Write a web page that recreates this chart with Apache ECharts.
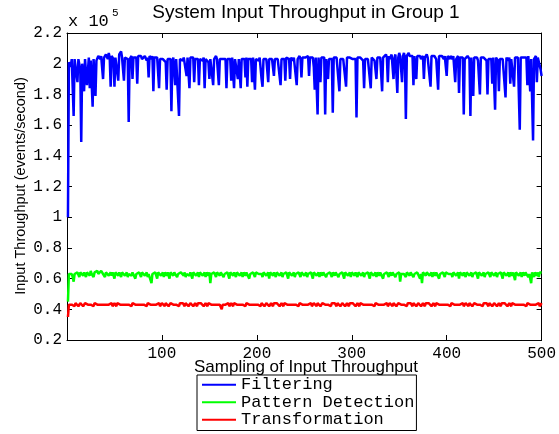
<!DOCTYPE html>
<html><head><meta charset="utf-8">
<script src="https://cdn.jsdelivr.net/npm/echarts@6/dist/echarts.min.js"></script>
<style>html,body{margin:0;padding:0;background:#fff}#c{width:559px;height:434px}</style>
</head><body><div id="c"></div>
<script>
// values in thousands of events/second (plotted in units of 10^5)
const seriesNames = ['Filtering', 'Pattern Detection', 'Transformation'];
const seriesColors = ['#0000ff', '#00ff00', '#ff0000'];
const xTicks = [100, 200, 300, 400, 500];
const yTicks = [0.2, 0.4, 0.6, 0.8, 1, 1.2, 1.4, 1.6, 1.8, 2, 2.2];

const filtering = [
100,201,200,198,203,202,166,203,204,203,188,203,202,196,149,200,201,182,203,202,
186,185,204,184,202,203,172,203,204,179,202,203,205,204,203,205,206,190,204,205,
206,205,203,207,204,185,205,204,203,185,204,205,203,189,206,205,208,204,203,189,
204,203,205,203,162,203,204,205,190,204,205,203,204,187,205,204,206,205,203,204,
203,205,204,202,204,191,205,204,203,205,182,204,203,205,204,203,184,203,204,202,
203,204,202,201,183,203,204,202,203,169,202,204,203,186,203,204,202,166,203,204,
203,202,204,205,203,192,204,203,184,204,205,203,204,188,203,204,202,203,186,203,
204,203,202,204,184,203,204,202,201,190,203,204,202,186,203,204,205,203,202,186,
203,204,202,203,204,202,203,184,203,204,202,203,189,204,203,184,203,204,202,190,
203,204,184,203,202,204,203,191,204,185,203,202,204,203,188,204,203,183,203,204,
203,202,204,203,190,185,203,204,202,203,204,188,203,204,202,203,204,192,203,202,
204,203,202,204,186,203,204,202,203,189,204,203,205,203,190,204,203,202,204,203,
204,186,203,204,205,203,191,204,203,205,204,203,204,205,192,204,205,203,204,198,
183,204,203,167,204,203,188,204,203,205,204,167,203,204,190,203,204,202,203,168,
204,203,205,204,203,204,182,203,204,202,203,204,202,185,204,203,205,204,203,204,
203,204,202,203,165,204,203,205,204,203,204,202,184,203,204,202,203,204,203,184,
204,203,204,202,203,190,204,203,205,204,203,182,204,205,203,206,204,188,205,203,
204,206,205,190,204,206,205,181,204,207,205,206,188,205,207,204,164,205,206,207,
205,206,204,205,186,205,204,190,205,206,204,205,203,204,205,190,204,205,206,204,
205,204,185,205,204,206,205,204,203,204,183,205,204,206,205,204,203,205,204,192,
205,204,203,205,204,203,205,204,188,203,204,205,181,204,203,205,204,167,203,204,
203,205,204,203,166,204,203,179,204,205,203,204,202,203,180,204,203,205,204,203,
204,202,180,203,204,202,203,187,204,203,170,204,203,202,182,203,204,202,203,204,
203,178,204,203,202,204,187,203,204,202,185,204,203,205,204,203,157,204,205,203,
204,205,203,204,186,205,204,182,203,204,150,203,204,205,188,204,203,205,196,192
];

const patternDetection = [
45,63,64,62,63,61,58,63,64,62,64,63,61,64,63,64,62,64,63,61,
64,63,64,62,65,63,64,61,64,65,64,65,63,64,62,65,64,63,64,61,
64,63,64,62,63,64,62,64,63,60,64,63,64,62,64,63,61,64,63,64,
62,63,64,61,63,64,63,62,64,63,64,60,63,64,62,64,63,61,64,63,
64,62,63,64,61,63,64,62,57,63,64,62,64,63,60,64,63,64,62,63,
64,61,64,63,62,64,63,60,64,63,64,62,64,63,64,61,63,64,62,64,
63,64,62,64,61,63,64,63,62,64,63,60,64,63,64,62,63,64,61,64,
63,64,62,63,64,61,64,63,62,64,57,63,64,62,64,63,61,64,63,64,
62,64,63,64,61,63,64,62,64,63,60,64,63,64,62,64,63,61,64,63,
64,62,63,64,61,64,63,62,64,63,64,60,63,64,62,64,63,61,64,63,
64,63,62,64,63,61,64,63,64,62,63,64,60,64,63,64,62,64,63,61,
64,63,64,62,63,64,61,63,64,62,64,63,60,64,63,64,62,63,64,61,
63,64,62,64,63,61,64,63,64,62,63,64,61,63,64,62,64,63,60,64,
63,64,62,63,64,61,64,63,62,64,63,64,61,63,64,62,64,63,61,64,
63,62,64,63,64,61,63,64,62,64,63,60,64,63,64,62,63,64,61,64,
63,64,62,64,63,61,64,63,64,62,63,64,61,63,64,62,64,63,60,64,
63,64,62,63,64,61,64,63,62,64,63,64,60,63,64,62,64,63,61,64,
63,62,64,63,64,61,63,64,62,64,58,63,64,62,63,64,61,64,63,64,
62,64,63,64,61,63,64,62,64,63,64,60,63,57,64,63,64,62,64,63,
64,62,63,64,61,64,63,62,64,63,64,60,63,64,62,64,63,61,64,63,
64,63,62,64,63,61,64,63,64,62,63,64,60,64,63,64,62,64,63,61,
64,63,64,62,63,64,61,63,64,62,64,63,60,64,63,64,62,63,64,61,
63,64,62,64,63,61,64,63,64,62,63,64,61,63,64,62,64,63,60,64,
63,64,62,63,64,61,64,63,62,64,63,59,64,63,64,62,63,64,61,64,
63,62,64,63,64,61,63,64,57,64,63,61,64,63,62,64,61,64,63,64
];

const transformation = [
35,43,44,42,43,44,43,42,44,43,44,42,43,44,43,44,42,43,44,43,
44,43,42,44,43,44,43,42,44,43,44,43,42,44,43,44,42,43,44,43,
43,44,42,43,44,43,44,42,43,44,43,42,44,43,44,43,42,44,43,44,
44,43,44,42,43,44,43,42,44,43,44,43,42,44,43,44,42,43,44,43,
43,44,43,42,44,43,44,43,42,44,43,44,42,43,44,43,44,42,43,44,
44,43,42,44,43,44,42,43,44,43,44,43,42,44,43,44,43,42,44,43,
43,44,43,42,44,43,44,42,43,44,43,44,42,43,44,43,42,44,43,44,
44,43,44,42,43,44,43,42,44,43,44,43,42,44,43,44,42,43,44,43,
43,44,40,43,44,42,43,44,43,44,42,43,44,43,42,44,43,44,43,42,
44,43,42,44,43,44,43,42,44,43,44,43,42,44,43,44,42,43,44,43,
43,44,43,42,44,43,44,42,43,44,43,44,42,43,44,43,42,44,43,44,
44,43,44,42,43,44,43,42,44,43,44,43,42,44,43,44,42,43,44,43,
43,44,43,42,44,43,44,43,42,44,43,44,42,43,44,43,44,42,43,44,
44,43,42,44,43,44,42,43,44,43,44,43,42,44,43,44,43,42,44,43,
43,44,43,42,44,43,44,42,43,44,43,44,42,43,44,43,42,44,43,44,
44,43,44,42,43,44,43,42,44,43,44,43,42,44,43,44,42,43,44,43,
43,44,43,42,44,43,44,43,42,44,43,44,42,43,44,43,44,42,43,44,
44,43,42,44,43,44,42,43,44,43,44,43,42,44,43,44,43,42,44,43,
43,44,43,42,44,43,44,42,43,44,43,44,42,43,44,43,42,44,43,44,
44,43,44,42,43,44,43,42,44,43,44,43,42,44,43,44,42,43,44,43,
43,44,43,42,44,43,44,43,42,44,43,44,42,43,44,43,44,42,43,44,
44,43,42,44,43,44,42,43,44,43,44,43,42,44,43,44,43,42,44,43,
43,44,43,42,44,43,44,42,43,44,43,44,42,43,44,43,42,44,43,44,
44,43,44,42,43,44,43,42,44,43,44,43,42,44,43,44,42,43,44,43,
43,44,43,42,44,43,44,43,42,44,43,44,42,43,44,43,44,42,43,44
];

const seriesValues = [filtering, patternDetection, transformation];

const chart = echarts.init(document.getElementById('c'), null, {renderer: 'canvas'});
const mono = 'Liberation Mono';
const black = '#000';

function xAxisCfg(pos, labels) {
  return {
    type: 'value', position: pos, min: 0, max: 500, interval: 100,
    axisLine: {show: true, onZero: false, lineStyle: {color: black, width: 1}},
    axisTick: {show: true, inside: true, length: 5, lineStyle: {color: black}},
    axisLabel: {show: labels, margin: 6, fontFamily: mono, fontSize: 16, color: black,
      formatter: v => (xTicks.indexOf(v) >= 0 ? String(v) : '')},
    splitLine: {show: false}
  };
}
function yAxisCfg(pos, labels) {
  return {
    type: 'value', position: pos, min: 0.2, max: 2.2, interval: 0.2,
    axisLine: {show: true, onZero: false, lineStyle: {color: black, width: 1}},
    axisTick: {show: true, inside: true, length: 5, lineStyle: {color: black}},
    axisLabel: {show: labels, margin: 5, fontFamily: mono, fontSize: 16, color: black,
      formatter: v => {
        const r = Math.round(v * 10) / 10;
        return yTicks.indexOf(r) >= 0 ? String(r) : '';
      }},
    splitLine: {show: false}
  };
}

const option = {
  animation: false,
  backgroundColor: '#fff',
  grid: {left: 67, right: 14, top: 33, bottom: 94, containLabel: false},
  xAxis: [xAxisCfg('bottom', true), xAxisCfg('top', false)],
  yAxis: [yAxisCfg('left', true), yAxisCfg('right', false)],
  legend: {
    orient: 'vertical', left: 197, top: 375, z: 20,
    backgroundColor: '#fff', borderColor: black, borderWidth: 1, borderRadius: 0,
    padding: [1, 2, 2, 5], itemWidth: 34, itemHeight: 2, itemGap: 0,
    icon: 'rect',
    textStyle: {fontFamily: mono, fontSize: 17, lineHeight: 17.5, color: black},
    data: seriesNames
  },
  graphic: [
    {type: 'text', x: 306, y: 13, z: 5, style: {text: 'System Input Throughput in Group 1', font: '19px "Liberation Sans"', fill: black, align: 'center', verticalAlign: 'middle'}},
    {type: 'text', x: 68, y: 21, z: 5, style: {text: 'x 10', font: '17px "Liberation Mono"', fill: black, align: 'left', verticalAlign: 'middle'}},
    {type: 'text', x: 112, y: 13, z: 5, style: {text: '5', font: '11px "Liberation Mono"', fill: black, align: 'left', verticalAlign: 'middle'}},
    {type: 'text', x: 306, y: 367, z: 1, style: {text: 'Sampling of Input Throughput', font: '17px "Liberation Sans"', fill: black, align: 'center', verticalAlign: 'middle'}},
    {type: 'text', x: 21, y: 186, rotation: Math.PI / 2, z: 5, style: {text: 'Input Throughput (events/second)', font: '14.5px "Liberation Sans"', fill: black, align: 'center', verticalAlign: 'middle'}}
  ],
  series: seriesNames.map((name, k) => ({
    name: name, type: 'line', symbol: 'none', xAxisIndex: 0, yAxisIndex: 0,
    color: seriesColors[k],
    lineStyle: {color: seriesColors[k], width: 2.5},
    data: seriesValues[k].map((v, i) => [i + 1, v / 100])
  }))
};
chart.setOption(option);
</script>
</body></html>
